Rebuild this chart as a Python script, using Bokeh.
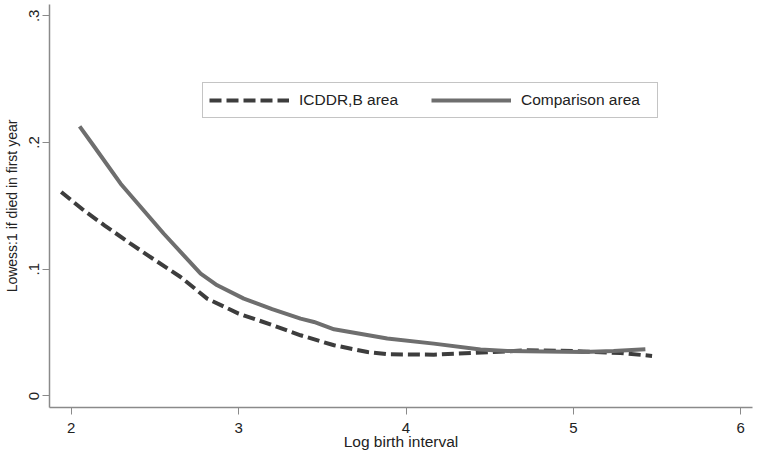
from bokeh.plotting import figure
from bokeh.models import Range1d, FixedTicker, Legend, LegendItem
from bokeh.embed import file_html
from bokeh.resources import INLINE

# Lowess curves
icddr_x = [1.94, 2.075, 2.2, 2.354, 2.5, 2.653, 2.812, 3.0, 3.2, 3.37, 3.57, 3.77, 3.89, 4.0, 4.166, 4.4, 4.72, 5.0, 5.28, 5.47]
icddr_y = [0.161, 0.1464, 0.1345, 0.1202, 0.1072, 0.0939, 0.0768, 0.065, 0.056, 0.0479, 0.040, 0.0347, 0.0329, 0.0328, 0.0326, 0.0339, 0.036, 0.0355, 0.0339, 0.0316]

comp_x = [2.05, 2.125, 2.295, 2.553, 2.773, 2.872, 3.031, 3.2, 3.37, 3.45, 3.57, 3.888, 4.166, 4.445, 4.605, 5.06, 5.24, 5.43]
comp_y = [0.2127, 0.199, 0.1675, 0.128, 0.0965, 0.0873, 0.0768, 0.0685, 0.061, 0.0584, 0.0526, 0.0453, 0.0413, 0.0366, 0.0355, 0.0347, 0.0355, 0.0368]

xtick_vals = [2, 3, 4, 5, 6]
ytick_vals = [0.0, 0.1, 0.2, 0.3]
ytick_labels = ["0", ".1", ".2", ".3"]

series_names = ["ICDDR,B area", "Comparison area"]
x_title = "Log birth interval"
y_title = "Lowess:1 if died in first year"

FONT = "Liberation Sans"

p = figure(frame_width=703, frame_height=403, output_backend="svg", toolbar_location=None,
           x_range=Range1d(1.87, 6.07), y_range=Range1d(-0.0091, 0.3089),
           min_border_top=4, min_border_left=46, min_border_right=1, min_border_bottom=43)
p.outline_line_color = None
p.xgrid.grid_line_color = None
p.ygrid.grid_line_color = None
p.background_fill_color = "white"
p.border_fill_color = "white"

r1 = p.line(icddr_x, icddr_y, line_color="#3d3d3d", line_width=4, line_dash="12 5")
r2 = p.line(comp_x, comp_y, line_color="#6e6e6e", line_width=4)

for ax in (p.xaxis[0], p.yaxis[0]):
    ax.axis_line_color = "#8a8a8a"
    ax.axis_line_width = 1.5
    ax.major_tick_line_color = "#8a8a8a"
    ax.major_tick_in = 0
    ax.major_tick_out = 7
    ax.minor_tick_line_color = None
    ax.major_label_text_font = FONT
    ax.major_label_text_font_size = "15px"
    ax.major_label_text_color = "#222222"
    ax.axis_label_text_font = FONT
    ax.axis_label_text_font_style = "normal"
    ax.axis_label_text_color = "#222222"

p.xaxis.ticker = FixedTicker(ticks=xtick_vals)
p.xaxis.axis_label = x_title
p.xaxis.axis_label_text_font_size = "15.5px"
p.xaxis.major_label_standoff = 8
p.xaxis.axis_label_standoff = -3

p.yaxis.ticker = FixedTicker(ticks=ytick_vals)
p.yaxis.major_label_overrides = {v: l for v, l in zip(ytick_vals, ytick_labels)}
p.yaxis.major_label_orientation = "vertical"
p.yaxis.axis_label = y_title
p.yaxis.axis_label_text_font_size = "14px"
p.yaxis.major_label_standoff = 3
p.yaxis.axis_label_standoff = 7

legend = Legend(items=[LegendItem(label=series_names[0], renderers=[r1]),
                       LegendItem(label=series_names[1], renderers=[r2])],
                orientation="horizontal", location=(153, 289))
legend.glyph_width = 80
legend.glyph_height = 22
legend.label_height = 22
legend.label_width = 130
legend.label_standoff = 10
legend.spacing = 2
legend.padding = 6
legend.margin = 0
legend.border_line_color = "#8a8a8a"
legend.border_line_width = 1
legend.label_text_font = FONT
legend.label_text_font_size = "15.5px"
legend.label_text_color = "#222222"
legend.background_fill_alpha = 1
p.add_layout(legend, "center")

open("out.html", "w").write(file_html(p, INLINE))
